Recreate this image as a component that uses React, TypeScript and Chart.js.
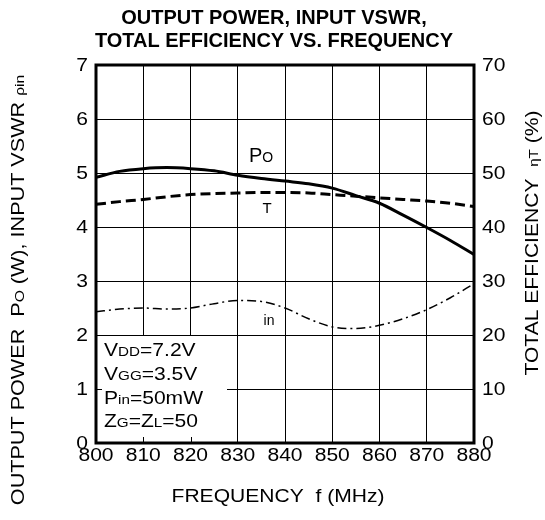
import React, { useEffect, useRef } from "react";
import { Chart, registerables } from "chart.js";

Chart.register(...registerables);

const freqs = [800, 805, 810, 815, 820, 825, 830, 835, 840, 845, 850, 855, 860, 865, 870, 875, 880];
const outputPower = [4.92, 5.03, 5.08, 5.10, 5.08, 5.04, 4.96, 4.90, 4.85, 4.80, 4.72, 4.58, 4.44, 4.22, 3.99, 3.75, 3.49];
const efficiency = [44.2, 44.7, 45.1, 45.6, 46.0, 46.2, 46.3, 46.4, 46.4, 46.3, 46.0, 45.7, 45.4, 45.1, 44.8, 44.4, 43.8];
const inputVswr = [2.43, 2.48, 2.50, 2.48, 2.50, 2.58, 2.64, 2.62, 2.50, 2.30, 2.15, 2.12, 2.18, 2.30, 2.47, 2.69, 2.95];

const titleLines = ["OUTPUT POWER, INPUT VSWR,", "TOTAL EFFICIENCY VS. FREQUENCY"];
const conditionLines: [string, boolean][][] = [
  [["V", false], ["DD", true], ["=7.2V", false]],
  [["V", false], ["GG", true], ["=3.5V", false]],
  [["P", false], ["in", true], ["=50mW", false]],
  [["Z", false], ["G", true], ["=Z", false], ["L", true], ["=50", false]],
];
const leftTitle: [string, boolean][] = [
  ["OUTPUT POWER  P", false], ["O", true], [" (W), INPUT VSWR ", false], ["\u03c1in", true],
];
const rightTitle: [string, boolean][] = [["TOTAL EFFICIENCY  ", false], ["\u03b7T", true], [" (%)", false]];
const xTitle: [string, boolean][] = [["FREQUENCY  f (MHz)", false]];

const FONT = "'Liberation Sans', Arial, sans-serif";
const SX = 1.17;

function drawRich(
  ctx: CanvasRenderingContext2D, parts: [string, boolean][], x: number, y: number,
  big: number, small: number, align: "left" | "center" | "right", baseline: CanvasTextBaseline = "alphabetic", sx = SX,
) {
  let total = 0;
  const widths = parts.map(([t, s]) => {
    ctx.font = `${s ? small : big}px ${FONT}`;
    const w = ctx.measureText(t).width;
    total += w;
    return w;
  });
  ctx.save();
  ctx.translate(x, y);
  ctx.scale(sx, 1);
  let cx = align === "center" ? -total / 2 : align === "right" ? -total : 0;
  ctx.textAlign = "left";
  ctx.textBaseline = baseline;
  parts.forEach(([t, s], i) => {
    ctx.font = `${s ? small : big}px ${FONT}`;
    ctx.fillText(t, cx, 0);
    cx += widths[i];
  });
  ctx.restore();
}

const decorPlugin = {
  id: "decor",
  beforeDatasetsDraw(chart: any) {
    const { ctx } = chart;
    const xs = chart.scales.x;
    const ys = chart.scales.y;
    ctx.save();
    const bx0 = xs.getPixelForValue(800) + 1;
    const bx1 = 227;
    const by0 = ys.getPixelForValue(2) + 1;
    const by1 = ys.getPixelForValue(0) - 1;
    ctx.fillStyle = "#fff";
    ctx.fillRect(bx0, by0, bx1 - bx0, by1 - by0);
    ctx.strokeStyle = "#000";
    ctx.lineWidth = 1;
    [810, 820].forEach((f) => {
      const px = Math.round(xs.getPixelForValue(f)) + 0.5;
      ctx.beginPath();
      ctx.moveTo(px, by1 + 1);
      ctx.lineTo(px, by1 - 5);
      ctx.stroke();
    });
    const py = Math.round(ys.getPixelForValue(1)) + 0.5;
    ctx.beginPath();
    ctx.moveTo(bx0 - 1, py);
    ctx.lineTo(bx0 + 5, py);
    ctx.stroke();
    ctx.fillStyle = "#000";
    conditionLines.forEach((parts, i) => {
      drawRich(ctx, parts, 104, 356 + i * 23.8, 18, 13, "left");
    });
    ctx.restore();
  },
  afterDatasetsDraw(chart: any) {
    const { ctx, chartArea } = chart;
    const xs = chart.scales.x;
    const ys = chart.scales.y;
    const y2 = chart.scales.y2;
    ctx.save();
    ctx.strokeStyle = "#000";
    ctx.lineWidth = 3;
    ctx.strokeRect(chartArea.left, chartArea.top, chartArea.right - chartArea.left, chartArea.bottom - chartArea.top);
    ctx.fillStyle = "#000";
    // tick labels from the scales
    xs.ticks.forEach((t: any) => {
      drawRich(ctx, [[String(t.value), false]], xs.getPixelForValue(t.value), 456, 18, 18, "center", "middle");
    });
    ys.ticks.forEach((t: any) => {
      drawRich(ctx, [[String(t.value), false]], 88, ys.getPixelForValue(t.value) + 1, 18, 18, "right", "middle");
    });
    y2.ticks.forEach((t: any) => {
      drawRich(ctx, [[String(t.value), false]], 482, y2.getPixelForValue(t.value) + 1, 18, 18, "left", "middle");
    });
    // curve labels
    drawRich(ctx, [["P", false], ["O", true]], 249, 162, 20, 14, "left", "alphabetic", 1);
    drawRich(ctx, [["T", false]], 267, 209, 15, 15, "center", "middle", 1);
    drawRich(ctx, [["in", false]], 269, 321, 14, 14, "center", "middle", 1);
    // title
    ctx.font = `bold 20px ${FONT}`;
    ctx.textAlign = "center";
    ctx.textBaseline = "middle";
    ctx.fillText(titleLines[0], 274, 18);
    ctx.fillText(titleLines[1], 274, 41);
    // x title
    drawRich(ctx, xTitle, 278, 497, 18, 18, "center", "middle");
    // left title
    ctx.save();
    ctx.translate(24, 290);
    ctx.rotate(-Math.PI / 2);
    drawRich(ctx, leftTitle, 0, 0, 18, 13, "center", "alphabetic", 1.2);
    ctx.restore();
    // right title
    ctx.save();
    ctx.translate(538, 243);
    ctx.rotate(-Math.PI / 2);
    drawRich(ctx, rightTitle, 0, 0, 18, 13, "center");
    ctx.restore();
    ctx.restore();
  },
};

export default function App() {
  const ref = useRef<HTMLCanvasElement>(null);
  useEffect(() => {
    if (!ref.current) return;
    const pts = (vals: number[]) => freqs.map((f, i) => ({ x: f, y: vals[i] }));
    const chart = new Chart(ref.current, {
      type: "line",
      data: {
        datasets: [
          {
            data: pts(outputPower), yAxisID: "y", borderColor: "#000", borderWidth: 3,
            pointRadius: 0, cubicInterpolationMode: "monotone", fill: false,
          },
          {
            data: pts(efficiency), yAxisID: "y2", borderColor: "#000", borderWidth: 3,
            borderDash: [10, 5], pointRadius: 0, cubicInterpolationMode: "monotone", fill: false,
          },
          {
            data: pts(inputVswr), yAxisID: "y", borderColor: "#000", borderWidth: 1.5,
            borderDash: [9, 4, 2, 4], pointRadius: 0, cubicInterpolationMode: "monotone", fill: false,
          },
        ],
      },
      options: {
        animation: false,
        responsive: false,
        devicePixelRatio: 1,
        layout: { padding: { top: 65, left: 0, right: 0, bottom: 0 } },
        plugins: { legend: { display: false }, tooltip: { enabled: false }, title: { display: false } },
        scales: {
          x: {
            type: "linear", min: 800, max: 880,
            ticks: { stepSize: 10, display: false },
            grid: { color: "#000", lineWidth: 1, drawTicks: false },
            border: { display: false },
            afterFit: (s: any) => { s.height = 77; },
          },
          y: {
            position: "left", min: 0, max: 7,
            ticks: { stepSize: 1, display: false },
            grid: { color: "#000", lineWidth: 1, drawTicks: false },
            border: { display: false },
            afterFit: (s: any) => { s.width = 96; },
          },
          y2: {
            position: "right", min: 0, max: 70,
            ticks: { stepSize: 10, display: false },
            grid: { display: false, drawTicks: false },
            border: { display: false },
            afterFit: (s: any) => { s.width = 71; },
          },
        },
      },
      plugins: [decorPlugin],
    } as any);
    return () => chart.destroy();
  }, []);
  return (
    <div style={{ position: "absolute", left: 0, top: 0, width: 545, height: 520, background: "#fff" }}>
      <canvas ref={ref} width={545} height={520} />
    </div>
  );
}
